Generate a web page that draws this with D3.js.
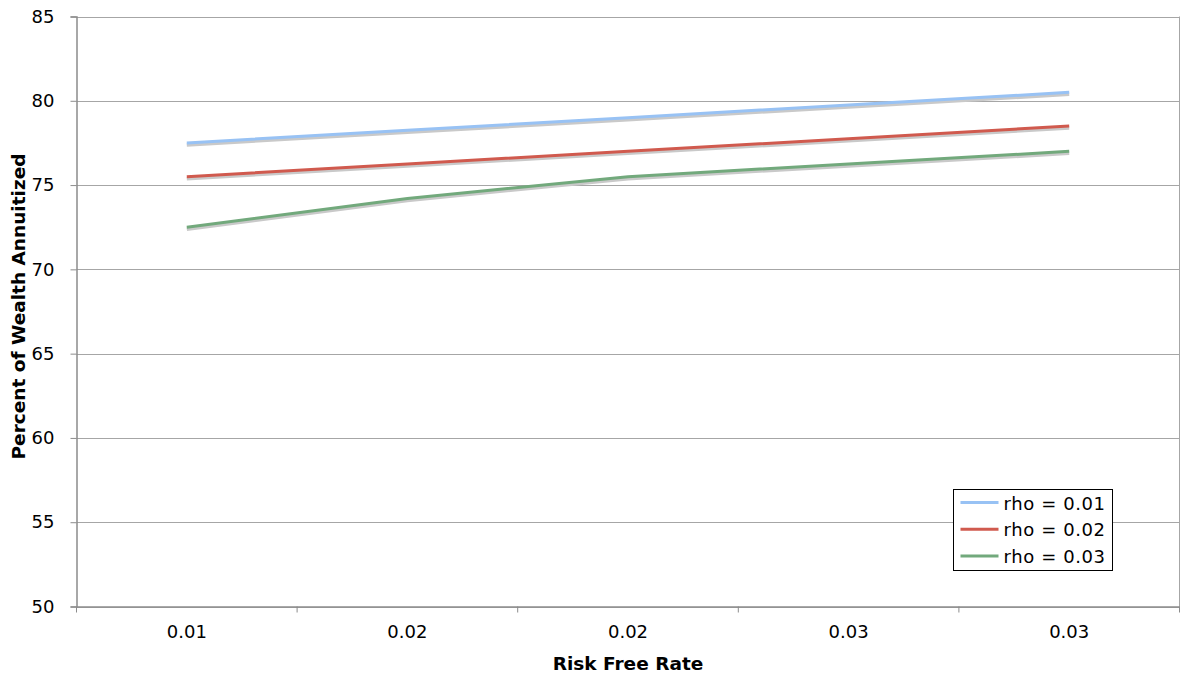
<!DOCTYPE html>
<html><head><meta charset="utf-8">
<script src="https://cdn.jsdelivr.net/npm/d3@7"></script>
<style>body{margin:0;background:#fff}svg{display:block}text{font-family:"DejaVu Sans",Verdana,sans-serif}</style>
</head><body>
<svg id="c" width="1180" height="677"></svg>
<script>
const categories = ["0.01","0.02","0.02","0.03","0.03"];
const seriesNames = ["rho = 0.01","rho = 0.02","rho = 0.03"];
const rho001 = [77.5, 78.25, 79.0, 79.75, 80.5];
const rho002 = [75.5, 76.25, 77.0, 77.75, 78.5];
const rho003 = [72.5, 74.2, 75.5, 76.25, 77.0];
const yTicks = [50,55,60,65,70,75,80,85];
const colors = ["#98c2f4","#d05a4e","#72a97c"];

const series = [rho001, rho002, rho003];
const svg = d3.select("#c");
const L=76.5, R=1179.5, T=16.5, B=606.5;
const x = d3.scaleBand().domain(d3.range(categories.length)).range([L,R]);
const y = d3.scaleLinear().domain([50,85]).range([B,T]);

// gridlines
svg.append("g").selectAll("line").data(yTicks).join("line")
  .attr("x1",L).attr("x2",R).attr("y1",d=>Math.round(y(d))+0.5).attr("y2",d=>Math.round(y(d))+0.5)
  .attr("stroke","#a6a6a6").attr("stroke-width",1);
// right border
svg.append("line").attr("x1",R).attr("x2",R).attr("y1",T).attr("y2",B).attr("stroke","#a6a6a6");

// y axis
const ya = svg.append("g").attr("transform",`translate(${L},0)`)
  .call(d3.axisLeft(y).tickValues(yTicks).tickSize(6).tickPadding(16).tickFormat(d3.format("d")));
ya.select(".domain").attr("stroke","#8c8c8c").attr("stroke-width",1.5);
ya.selectAll(".tick line").attr("stroke","#8c8c8c");
ya.selectAll("text").attr("font-size",18).attr("fill","#000").attr("font-family","DejaVu Sans");

// x axis
const xa = svg.append("g").attr("transform",`translate(0,${B})`)
  .call(d3.axisBottom(x).tickFormat(i=>categories[i]).tickSize(0).tickPadding(19));
xa.select(".domain").attr("stroke","#8c8c8c").attr("stroke-width",1.5);
xa.selectAll("text").attr("font-size",18).attr("fill","#000").attr("font-family","DejaVu Sans");
const bounds = d3.range(categories.length+1).map(i=> i<categories.length ? x(i) : x(categories.length-1)+x.bandwidth());
xa.selectAll(".bt").data(bounds).join("line").attr("class","bt")
  .attr("x1",d=>d).attr("x2",d=>d).attr("y1",0).attr("y2",6).attr("stroke","#8c8c8c");

const line = d3.line().x((d,i)=>x(i)+x.bandwidth()/2).y(d=>y(d));
// shadows
svg.append("g").selectAll("path").data(series).join("path")
  .attr("d",line).attr("transform","translate(0,2)").attr("fill","none")
  .attr("stroke","#c9c9c9").attr("stroke-width",3.5);
svg.append("g").selectAll("path").data(series).join("path")
  .attr("d",line).attr("fill","none").attr("stroke",(d,i)=>colors[i]).attr("stroke-width",3);

// axis titles
svg.append("text").attr("x",628).attr("y",670).attr("text-anchor","middle")
  .attr("font-weight","bold").attr("font-size",18.5).text("Risk Free Rate");
svg.append("text").attr("transform",`translate(25,${(T+B)/2-5}) rotate(-90)`).attr("text-anchor","middle")
  .attr("font-weight","bold").attr("font-size",18.5).text("Percent of Wealth Annuitized");

// legend
const lg = svg.append("g").attr("transform","translate(953.5,489.5)");
lg.append("rect").attr("width",159).attr("height",81).attr("fill","#fff").attr("stroke","#000").attr("stroke-width",1);
const items = lg.selectAll("g").data(seriesNames).join("g").attr("transform",(d,i)=>`translate(0,${13+i*26.8})`);
items.append("line").attr("x1",7).attr("x2",45).attr("stroke",(d,i)=>colors[i]).attr("stroke-width",3);
items.append("text").attr("x",50).attr("y",7).attr("font-size",18).attr("letter-spacing",0.6).text(d=>d);
</script>
</body></html>
